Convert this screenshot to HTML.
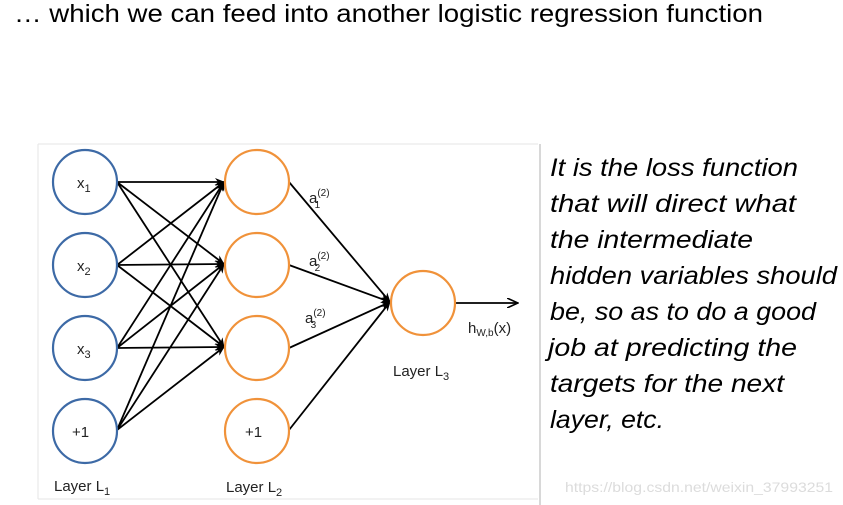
<!DOCTYPE html>
<html><head><meta charset="utf-8"><style>
html,body{margin:0;padding:0;background:#fff;}
svg{display:block;}
text{font-family:"Liberation Sans",sans-serif;}
</style></head><body>
<svg width="843" height="505" viewBox="0 0 843 505" xmlns="http://www.w3.org/2000/svg">
<defs>
<marker id="ah" markerWidth="10" markerHeight="8" refX="9" refY="4" orient="auto" markerUnits="userSpaceOnUse">
<path d="M0,0 L10,4 L0,8 L3,4 z" fill="#000"/>
</marker>
<marker id="ao" markerWidth="12" markerHeight="10" refX="11" refY="5" orient="auto" markerUnits="userSpaceOnUse">
<path d="M0,0 L11,5 L0,10" fill="none" stroke="#000" stroke-width="1.6"/>
</marker>
</defs>
<text x="14" y="22" font-size="25" textLength="749" lengthAdjust="spacingAndGlyphs" fill="#000">… which we can feed into another logistic regression function</text>

<line x1="38" y1="144" x2="538" y2="144" stroke="#e6e6e6" stroke-width="1"/>
<line x1="38" y1="144" x2="38" y2="499" stroke="#e6e6e6" stroke-width="1"/>
<line x1="38" y1="499" x2="538" y2="499" stroke="#e6e6e6" stroke-width="1"/>
<line x1="540" y1="144" x2="540" y2="505" stroke="#ccc" stroke-width="1.5"/>

<g stroke="#000" stroke-width="1.8" fill="none" marker-end="url(#ah)">
<line x1="117" y1="182" x2="224" y2="182"/>
<line x1="117" y1="182" x2="224" y2="264"/>
<line x1="117" y1="182" x2="224" y2="347"/>
<line x1="117" y1="265" x2="224" y2="182"/>
<line x1="117" y1="265" x2="224" y2="264"/>
<line x1="117" y1="265" x2="224" y2="347"/>
<line x1="117" y1="348" x2="224" y2="182"/>
<line x1="117" y1="348" x2="224" y2="264"/>
<line x1="117" y1="348" x2="224" y2="347"/>
<line x1="117" y1="430" x2="224" y2="182"/>
<line x1="117" y1="430" x2="224" y2="264"/>
<line x1="117" y1="430" x2="224" y2="347"/>
<line x1="289" y1="182" x2="390" y2="302"/>
<line x1="289" y1="265" x2="390" y2="302"/>
<line x1="289" y1="348" x2="390" y2="302"/>
<line x1="289" y1="430" x2="390" y2="302"/>
</g>
<line x1="455" y1="303" x2="518" y2="303" stroke="#000" stroke-width="1.8" marker-end="url(#ao)"/>

<g fill="#fff" stroke="#3d6aa6" stroke-width="2.2">
<circle cx="85" cy="182" r="32"/>
<circle cx="85" cy="265" r="32"/>
<circle cx="85" cy="348" r="32"/>
<circle cx="85" cy="431" r="32"/>
</g>
<g fill="#fff" stroke="#f0923a" stroke-width="2.2">
<circle cx="257" cy="182" r="32"/>
<circle cx="257" cy="265" r="32"/>
<circle cx="257" cy="348" r="32"/>
<circle cx="257" cy="431" r="32"/>
<circle cx="423" cy="303" r="32"/>
</g>

<g fill="#222" font-size="15">
<text x="77" y="188">x<tspan font-size="11" dy="4">1</tspan></text>
<text x="77" y="271">x<tspan font-size="11" dy="4">2</tspan></text>
<text x="77" y="354">x<tspan font-size="11" dy="4">3</tspan></text>
<text x="72" y="437">+1</text>
<text x="245" y="437">+1</text>
<text x="309" y="203">a<tspan font-size="10" dy="-7">(2)</tspan><tspan font-size="10" dx="-15" dy="12">1</tspan></text>
<text x="309" y="266">a<tspan font-size="10" dy="-7">(2)</tspan><tspan font-size="10" dx="-15" dy="12">2</tspan></text>
<text x="305" y="323">a<tspan font-size="10" dy="-7">(2)</tspan><tspan font-size="10" dx="-15" dy="12">3</tspan></text>
<text x="468" y="333">h<tspan font-size="10" dy="3">W,b</tspan><tspan dy="-3">(x)</tspan></text>
<text x="393" y="376">Layer L<tspan font-size="11" dy="4">3</tspan></text>
<text x="54" y="491">Layer L<tspan font-size="11" dy="4">1</tspan></text>
<text x="226" y="492">Layer L<tspan font-size="11" dy="4">2</tspan></text>
</g>

<g font-size="25" font-style="italic" fill="#000">
<text x="550" y="176" textLength="248" lengthAdjust="spacingAndGlyphs">It is the loss function</text>
<text x="550" y="212" textLength="246" lengthAdjust="spacingAndGlyphs">that will direct what</text>
<text x="550" y="248" textLength="203" lengthAdjust="spacingAndGlyphs">the intermediate</text>
<text x="550" y="284" textLength="287" lengthAdjust="spacingAndGlyphs">hidden variables should</text>
<text x="550" y="320" textLength="266" lengthAdjust="spacingAndGlyphs">be, so as to do a good</text>
<text x="548" y="356" textLength="249" lengthAdjust="spacingAndGlyphs">job at predicting the</text>
<text x="550" y="392" textLength="234" lengthAdjust="spacingAndGlyphs">targets for the next</text>
<text x="550" y="428" textLength="114" lengthAdjust="spacingAndGlyphs">layer, etc.</text>
</g>
<text x="565" y="492" font-size="14" fill="#dcdcdc" textLength="268" lengthAdjust="spacingAndGlyphs">https://blog.csdn.net/weixin_37993251</text>
</svg>
</body></html>
